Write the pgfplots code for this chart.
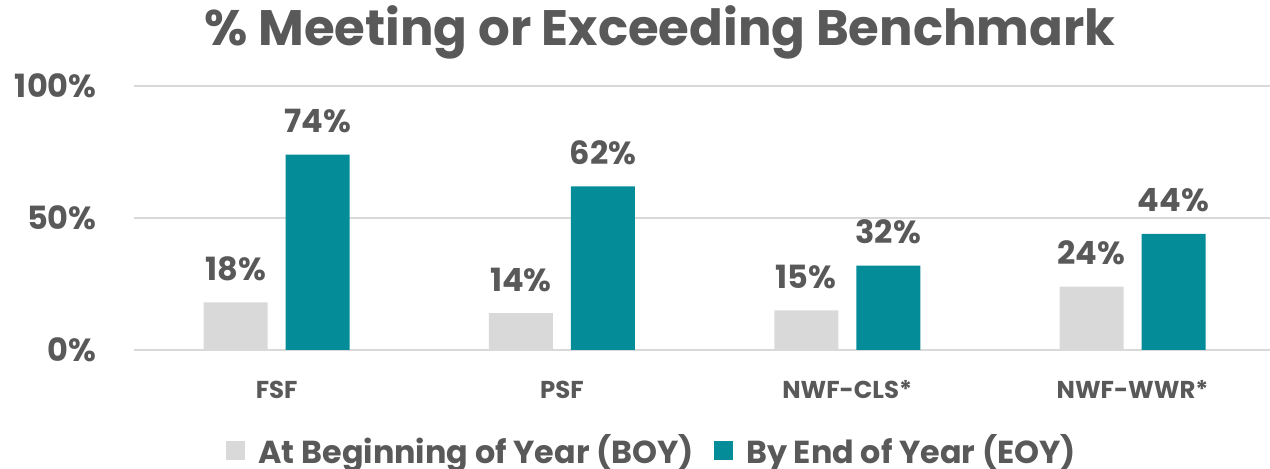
\documentclass[border=0pt]{standalone}
\usepackage{pgfplots}
\pgfplotsset{compat=1.18}
\usepackage{fontspec}
\setmainfont{Poppins}[BoldFont={* Bold}]
\definecolor{teal}{HTML}{048C99}
\definecolor{lgray}{HTML}{D9D9D9}
\definecolor{txt}{HTML}{595959}
\begin{document}
\begin{tikzpicture}[font=\bfseries, text=txt]
\useasboundingbox (-67pt,-59.5pt) rectangle (568pt,175pt);
\begin{axis}[
  at={(0,0)}, anchor=south west,
  scale only axis, width=570.6pt, height=132pt,
  xmin=-0.5, xmax=3.5, ymin=0, ymax=100,
  ybar, bar width=32pt,
  axis x line*=bottom, axis y line*=left,
  x axis line style={draw=lgray, line width=1pt},
  y axis line style={draw=none},
  /pgf/number format/assume math mode=true,
  ymajorgrids, grid style={draw=lgray, line width=1pt},
  ytick={0,50,100},
  yticklabels={0\%,50\%,100\%},
  yticklabel style={font=\fontsize{16}{16}\selectfont\bfseries, text=txt, anchor=east, inner sep=0pt, xshift=-18.5pt},
  xtick={0,1,2,3}, xticklabels={FSF,PSF,NWF-CLS*,NWF-WWR*},
  major tick length=0pt,
  xticklabel style={font=\fontsize{12.2}{12.2}\selectfont\bfseries, text=txt, anchor=base, inner sep=0pt, yshift=-24.5pt},
  nodes near coords={\pgfmathprintnumber{\pgfplotspointmeta}\%},
  every node near coord/.append style={font=\fontsize{16}{16}\selectfont\bfseries, text=txt, anchor=base, inner sep=0pt, yshift=11pt},
  legend columns=2,
  legend style={at={(0.455,-0.379)}, anchor=center, draw=none, fill=none,
    font=\fontsize{15.9}{15.9}\selectfont\bfseries, text=txt,
    /tikz/every even column/.append style={column sep=8pt}},
  legend image code/.code={\fill[#1] (0pt,-4.75pt) rectangle (9.5pt,4.75pt); \path (14pt,0pt);},
  clip=false,
]
\addplot[fill=lgray, draw=none, bar shift=-20.5pt] coordinates {(0,18) (1,14) (2,15) (3,24)};
\addplot[fill=teal, draw=none, bar shift=20.5pt] coordinates {(0,74) (1,62) (2,32) (3,44)};
\legend{At Beginning of Year (BOY), By End of Year (EOY)}
\end{axis}
\node[font=\fontsize{24.9}{24.9}\selectfont\bfseries, text=txt, anchor=base] at (263pt,152pt) {\% Meeting or Exceeding Benchmark};
\end{tikzpicture}
\end{document}
